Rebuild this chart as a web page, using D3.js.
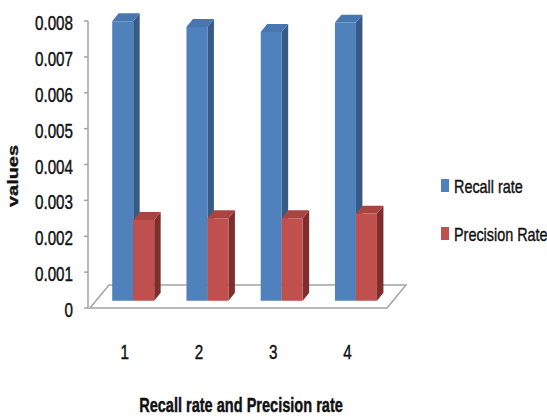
<!DOCTYPE html>
<html>
<head>
<meta charset="utf-8">
<script src="https://cdn.jsdelivr.net/npm/d3@7"></script>
<style>
  html, body { margin: 0; padding: 0; background: #fff; }
  svg { display: block; }
  text { font-family: "Liberation Sans", Arial, sans-serif; fill: #111; stroke: #111; stroke-width: 0.35px; }
</style>
</head>
<body>
<svg id="chart" width="547" height="419"></svg>
<script>
// Data
const categories = ["1", "2", "3", "4"];
const seriesNames = ["Recall rate", "Precision Rate"];
const recallRate = [0.00779, 0.00763, 0.00749, 0.00775];
const precisionRate = [0.00225, 0.00230, 0.00230, 0.00243];
const yTicks = [0, 0.001, 0.002, 0.003, 0.004, 0.005, 0.006, 0.007, 0.008];
const tickLabels = ["0", "0.001", "0.002", "0.003", "0.004", "0.005", "0.006", "0.007", "0.008"];

const colors = {
  "Recall rate":    { front: "#4f81bd", side: "#375a86", top: "#4876ae" },
  "Precision Rate": { front: "#c0504d", side: "#7e2f2d", top: "#a94441" }
};

const svg = d3.select("#chart");

// Plot frame: floor front edge and oblique depth vector
const x0 = 90, x1 = 387, yBase = 308;
const depth = { dx: 19, dy: -23 };
const barDepthStart = 0.32, barDepthEnd = 0.66;

const x = d3.scaleBand().domain(categories).range([x0, x1]);
const y = d3.scaleLinear().domain([0, 0.008]).range([yBase, 21]);
const barW = 21;
const barPad = (x.bandwidth() - 2 * barW) / 2;

// Oblique projection of (screen x, screen y) at a given depth fraction
const proj = (px, py, d) => [px + d * depth.dx, py + d * depth.dy];

// Condensed, slightly tall text helper
function label(g, str, px, py, anchor, sx, sy, opts = {}) {
  const t = g.append("text")
    .attr("transform", `translate(${px},${py})${opts.rotate ? " rotate(" + opts.rotate + ")" : ""} scale(${sx},${sy})`)
    .attr("text-anchor", anchor)
    .style("font-size", (opts.size || 16) + "px")
    .style("font-weight", opts.bold ? "bold" : "normal")
    .text(str);
  return t;
}

// Floor
const floorPts = [
  proj(x0, yBase, 0), proj(x1, yBase, 0), proj(x1, yBase, 1), proj(x0, yBase, 1)
];
svg.append("polygon")
  .attr("points", floorPts.map(p => p.join(",")).join(" "))
  .attr("fill", "#fff")
  .attr("stroke", "#a3a3a3")
  .attr("stroke-width", 1.5);

// Value axis
const axisX = 88;
const axisG = svg.append("g");
axisG.append("line")
  .attr("x1", axisX).attr("x2", axisX)
  .attr("y1", y(0.008)).attr("y2", y(0) + 1)
  .attr("stroke", "#a3a3a3").attr("stroke-width", 1.5);
axisG.selectAll("line.tick").data(yTicks).join("line")
  .attr("class", "tick")
  .attr("x1", axisX - 4).attr("x2", axisX)
  .attr("y1", d => y(d)).attr("y2", d => y(d))
  .attr("stroke", "#a3a3a3").attr("stroke-width", 1.5);
yTicks.forEach((v, i) => {
  label(axisG, tickLabels[i], 73, y(v) + 9, "end", 0.95, 1.28);
});

// Bars (drawn back-to-front by category)
const barsG = svg.append("g");
const series = [
  { name: seriesNames[0], values: recallRate, offset: 0 },
  { name: seriesNames[1], values: precisionRate, offset: 1 }
];
categories.forEach((c, ci) => {
  series.forEach(s => {
    const v = s.values[ci];
    const col = colors[s.name];
    const left = x(c) + barPad + s.offset * barW;
    const right = left + barW;
    const top = y(v), bottom = y(0);
    const fTL = proj(left, top, barDepthStart), fTR = proj(right, top, barDepthStart);
    const fBL = proj(left, bottom, barDepthStart), fBR = proj(right, bottom, barDepthStart);
    const bTL = proj(left, top, barDepthEnd), bTR = proj(right, top, barDepthEnd);
    const bBR = proj(right, bottom, barDepthEnd);
    const poly = pts => pts.map(p => p.join(",")).join(" ");
    // side face
    barsG.append("polygon").attr("points", poly([fTR, bTR, bBR, fBR])).attr("fill", col.side);
    // top face
    barsG.append("polygon").attr("points", poly([fTL, fTR, bTR, bTL])).attr("fill", col.top);
    // front face
    barsG.append("polygon").attr("points", poly([fTL, fTR, fBR, fBL])).attr("fill", col.front);
  });
});

// Category labels
const catG = svg.append("g");
categories.forEach(c => {
  label(catG, c, x(c) + x.bandwidth() / 2 - 2.5, 359, "middle", 0.95, 1.28);
});

// Axis titles
label(svg, "Recall rate and Precision rate", 241, 412, "middle", 0.91, 1.28, { bold: true });
label(svg, "values", 18, 176, "middle", 1.33, 1.0, { bold: true, size: 15, rotate: -90 });

// Legend
const legend = svg.append("g");
const legendY = [179, 227];
seriesNames.forEach((name, i) => {
  legend.append("rect")
    .attr("x", 441).attr("y", legendY[i])
    .attr("width", 8).attr("height", 13)
    .attr("fill", colors[name].front);
  label(legend, name, 454, legendY[i] + 14, "start", 0.9, 1.2);
});
</script>
</body>
</html>
